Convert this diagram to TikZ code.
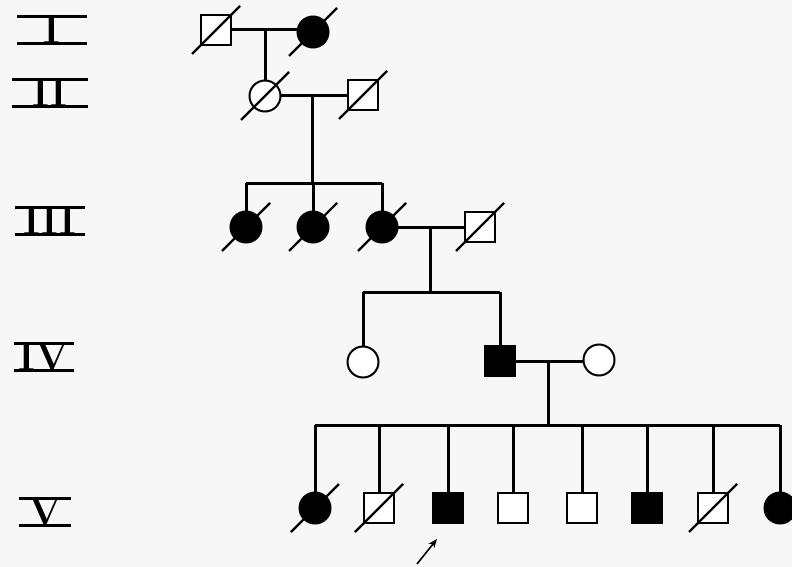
\documentclass[tikz,border=0pt]{standalone}
\usetikzlibrary{arrows.meta}
\begin{document}
\begin{tikzpicture}[x=1pt,y=-1pt,
  conn/.style={line width=3pt},
  sym/.style={draw=black, line width=2pt, fill=white, inner sep=0pt, outer sep=0pt},
  male/.style={sym, rectangle, minimum size=30pt},
  female/.style={sym, circle, minimum size=31pt},
  aff/.style={fill=black},
  slashline/.style={line width=2.4pt},
  gen/.style={font=\fontsize{40}{40}\selectfont\bfseries, inner sep=0pt},
  bar/.style={line width=2.4pt},
  probarrow/.style={line width=1.6pt, -{Stealth[length=9pt,width=7pt]}}]
\fill[black!3] (0,0) rectangle (792,567);
\useasboundingbox (0,0) rectangle (792,567);
\newcommand\deceased[1]{\draw[slashline] (#1) ++(-24,24) -- ++(48,-48);}
\newcommand\genlab[5]{%
  \node[gen] (#1) at (#2,#3) {#5};
  \draw[bar] ([xshift=-#4pt,yshift=13.5pt]#1.center) -- ([xshift=#4pt,yshift=13.5pt]#1.center);
  \draw[bar] ([xshift=-#4pt,yshift=-13.5pt]#1.center) -- ([xshift=#4pt,yshift=-13.5pt]#1.center);}
% generation labels
\genlab{LI}{52}{30}{35}{I}
\genlab{LII}{50}{93}{38}{II}
\genlab{LIII}{50}{221}{35}{III}
\genlab{LIV}{44}{357}{30}{IV}
\genlab{LV}{45}{512}{26}{V}
% coordinates for sibship lines
\coordinate (s3) at (0,183);
\coordinate (s4) at (0,292);
\coordinate (s5) at (0,425);
% generation I
\node[male] (I1) at (216,30) {};
\node[female,aff] (I2) at (313,32) {};
% generation II
\node[female] (II1) at (265,96) {};
\node[male] (II2) at (363,95) {};
% generation III
\node[female,aff] (III1) at (246,227) {};
\node[female,aff] (III2) at (313,227) {};
\node[female,aff] (III3) at (382,227) {};
\node[male] (III4) at (480,227) {};
% generation IV
\node[female] (IV1) at (363,362) {};
\node[male,aff] (IV2) at (500,361) {};
\node[female] (IV3) at (599,360) {};
% generation V
\node[female,aff] (V1) at (315,508) {};
\node[male] (V2) at (379,508) {};
\node[male,aff] (V3) at (448,508) {};
\node[male] (V4) at (513,508) {};
\node[male] (V5) at (582,508) {};
\node[male,aff] (V6) at (647,508) {};
\node[male] (V7) at (713,508) {};
\node[female,aff] (V8) at (780,508) {};
% couples and descent
\draw[conn] (I1.east) -- (I1.east -| I2.west);
\coordinate (m1) at (265,30);
\draw[conn] (m1) -- (II1.north);
\draw[conn] (II1.east) -- (II1.east -| II2.west);
\coordinate (m2) at (312,95);
\draw[conn] (m2) -- (m2 |- s3);
\draw[conn] (III1.north |- s3) -- (III3.north |- s3);
\foreach \c in {III1,III2,III3} \draw[conn] (\c.north) -- (\c.north |- s3);
\draw[conn] (III3.east) -- (III3.east -| III4.west);
\coordinate (m3) at (430,227);
\draw[conn] (m3) -- (m3 |- s4);
\draw[conn] (IV1.north |- s4) -- (IV2.north |- s4);
\foreach \c in {IV1,IV2} \draw[conn] (\c.north) -- (\c.north |- s4);
\draw[conn] (IV2.east) -- (IV2.east -| IV3.west);
\coordinate (m4) at (548,361);
\draw[conn] (m4) -- (m4 |- s5);
\draw[conn] (V1.north |- s5) -- (V8.north |- s5);
\foreach \c in {V1,V2,V3,V4,V5,V6,V7,V8} \draw[conn] (\c.north) -- (\c.north |- s5);
% deceased slashes
\foreach \c in {I1,I2,II1,II2,III1,III2,III3,III4,V1,V2,V7} {\deceased{\c}}
% proband arrow
\coordinate (pa) at (417,564);
\draw[probarrow] (pa) -- ([xshift=-11pt,yshift=-31pt]V3.center);
\end{tikzpicture}
\end{document}
